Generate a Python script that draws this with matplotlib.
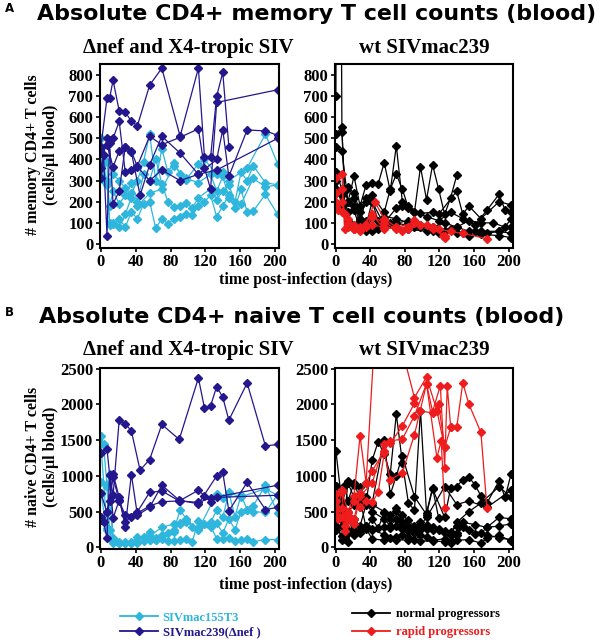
import matplotlib
matplotlib.use("Agg")
import matplotlib.pyplot as plt
from matplotlib.lines import Line2D

CYAN = "#2fb6dc"
NAVY = "#24168c"
BLACK = "#000000"
RED = "#ee1c1c"

# ---------------- data (days post-infection, cells/ul blood) ----------------
# A: memory CD4+ T cells, delta-nef / X4-tropic SIV
mem_nef_days = [
    [0, 7, 10, 14, 21, 28, 35, 42, 56, 70, 91, 112, 119, 126, 133, 140, 147],
    [0, 7, 10, 14, 21, 28, 35, 42, 56, 70, 91, 112, 119, 126, 133, 203],
    [0, 3, 7, 10, 14, 21, 28, 35, 45, 56, 70, 91, 112, 133, 140, 147, 168, 189, 203],
    [0, 7, 14, 21, 28, 35, 42, 56, 70, 91, 112, 133, 203],
]
mem_nef_vals = [
    [460, 690, 690, 775, 630, 625, 580, 560, 752, 832, 510, 832, 410, 410, 700, 812, 460],
    [360, 500, 490, 500, 580, 340, 350, 370, 510, 470, 505, 545, 360, 260, 670, 730],
    [310, 420, 40, 480, 190, 250, 460, 435, 230, 375, 510, 430, 330, 400, 540, 320, 540, 535, 515],
    [430, 470, 365, 440, 460, 440, 365, 300, 350, 300, 330, 350, 500],
]
mem_x4_days = [
    [0, 3, 7, 14, 21, 28, 35, 42, 49, 56, 63, 70, 77, 84, 91, 98, 112, 119, 133, 140, 147, 168, 189, 203],
    [0, 7, 10, 14, 21, 28, 35, 42, 49, 56, 63, 70, 77, 84, 91, 98, 105, 112, 126, 133, 140, 147, 154, 161, 168, 175, 189, 203],
    [0, 7, 10, 14, 21, 28, 35, 42, 49, 56, 63, 70, 77, 84, 91, 98, 105, 112, 119, 126, 133, 140, 147, 154, 161, 168, 175, 189, 203],
    [0, 3, 7, 10, 14, 21, 28, 35, 42, 56, 70, 84, 98, 112, 126, 133, 140, 147, 161, 175, 189, 203],
]
mem_x4_vals = [
    [500, 390, 280, 330, 300, 265, 240, 300, 390, 520, 300, 450, 340, 385, 330, 305, 380, 400, 330, 340, 300, 360, 520, 380],
    [390, 300, 180, 250, 190, 230, 290, 200, 330, 300, 400, 285, 200, 175, 180, 195, 170, 220, 260, 210, 250, 280, 200, 340, 300, 370, 290, 280],
    [310, 390, 90, 95, 120, 80, 150, 120, 190, 200, 75, 120, 95, 120, 130, 140, 135, 180, 200, 230, 130, 180, 230, 170, 260, 150, 155, 235, 140],
    [460, 300, 290, 100, 100, 80, 140, 220, 180, 240, 260, 370, 310, 290, 330, 250, 320, 220, 190, 310, 270, 280],
]

# A: memory CD4+ T cells, wt SIVmac239
mem_wt_days = [
    [0, 3, 7, 10, 14, 21, 28, 35, 42, 49, 56, 63, 70, 77, 84, 91, 98, 105, 112, 119, 126, 133, 140],
    [0, 7, 10, 14, 21, 28, 35, 42, 56, 63, 70, 77, 84, 98, 112, 119, 140, 147, 154, 168, 189, 203],
    [0, 7, 14, 21, 28, 35, 42, 56, 70, 77, 91, 105, 119, 133, 147, 161, 175, 189, 196, 203],
    [0, 7, 14, 21, 28, 35, 42, 49, 56, 70, 84, 98, 112, 126, 140, 154, 168, 182, 196, 203],
    [0, 7, 14, 21, 28, 35, 42, 49, 56, 63, 70, 84, 98, 112, 126, 140, 154, 168, 189, 203],
    [0, 7, 10, 14, 21, 28, 35, 42, 49, 56, 70, 84, 105, 119, 133, 147, 161, 175, 189, 203],
    [0, 7, 14, 21, 28, 35, 42, 56, 70, 91, 112, 126, 140, 154, 168, 189, 203],
]
mem_wt_vals = [
    [700, 4000, 530, 260, 200, 320, 180, 280, 290, 285, 385, 250, 465, 200, 180, 150, 365, 210, 375, 260, 140, 220, 325],
    [520, 555, 250, 270, 240, 150, 200, 230, 150, 260, 330, 260, 170, 145, 150, 140, 250, 140, 180, 120, 200, 185],
    [460, 440, 200, 220, 120, 110, 130, 100, 170, 180, 150, 130, 110, 150, 120, 90, 160, 235, 160, 150],
    [340, 260, 150, 180, 100, 220, 200, 110, 130, 120, 100, 90, 80, 100, 80, 110, 100, 100, 80, 120],
    [260, 240, 110, 90, 120, 90, 80, 70, 90, 100, 100, 110, 80, 70, 60, 80, 60, 60, 60, 80],
    [300, 180, 140, 200, 160, 70, 60, 60, 80, 100, 80, 70, 60, 50, 70, 50, 60, 50, 60, 50],
    [240, 230, 100, 80, 110, 90, 200, 90, 100, 80, 60, 60, 50, 40, 45, 40, 30],
]
mem_rapid_days = [
    [0, 7, 10, 14, 21, 28, 35, 45, 56, 70, 84, 98, 112, 126],
    [0, 7, 10, 14, 21, 28, 35, 42, 56, 77, 91, 105, 119, 133, 147, 175],
    [0, 3, 7, 14, 21, 28, 42, 56, 70, 84, 98, 112, 124],
    [0, 7, 14, 21, 28, 42, 56, 70, 91, 112, 126],
]
mem_rapid_vals = [
    [310, 330, 70, 80, 70, 70, 90, 200, 120, 80, 80, 90, 80, 30],
    [240, 260, 140, 120, 90, 70, 80, 130, 100, 60, 115, 90, 70, 60, 50, 25],
    [200, 160, 150, 100, 70, 60, 90, 80, 70, 70, 90, 80, 40],
    [180, 200, 90, 70, 80, 140, 70, 80, 100, 70, 40],
]

# B: naive CD4+ T cells, delta-nef / X4-tropic SIV
nai_nef_days = [
    [0, 7, 10, 14, 21, 28, 35, 45, 56, 70, 90, 112, 119, 126, 133, 140, 147, 168, 189, 203],
    [0, 7, 10, 14, 21, 28, 35, 42, 56, 70, 90, 112, 133, 140, 147, 168, 189, 203],
    [0, 3, 7, 10, 14, 21, 28, 35, 42, 56, 70, 90, 112, 119, 126, 133, 203],
    [0, 7, 14, 21, 28, 42, 56, 70, 91, 112, 126, 203],
]
nai_nef_vals = [
    [1320, 1380, 1020, 730, 1780, 1730, 1630, 1080, 1230, 1720, 1510, 2370, 1950, 1980, 2250, 2100, 1780, 2300, 1420, 1440],
    [760, 490, 650, 1030, 700, 290, 1020, 450, 560, 870, 660, 610, 1000, 1050, 510, 910, 530, 560],
    [420, 360, 130, 1020, 410, 660, 360, 430, 500, 770, 790, 650, 800, 720, 640, 700, 730],
    [380, 500, 980, 650, 450, 480, 580, 640, 650, 630, 690, 870],
]
nai_x4_days = [
    [0, 3, 7, 10, 14, 21, 28, 35, 42, 49, 56, 63, 70, 77, 84, 91, 98, 105, 112, 119, 126, 133, 140, 147, 154, 161, 168, 175, 189, 203],
    [0, 7, 10, 14, 21, 28, 35, 42, 49, 56, 63, 70, 77, 84, 91, 98, 105, 112, 126, 133, 140, 147, 154, 161, 168, 175, 189, 203],
    [0, 7, 10, 14, 21, 28, 35, 42, 56, 63, 70, 84, 91, 98, 112, 126, 133, 140, 147, 154, 161, 168, 175, 189, 203],
    [0, 7, 14, 21, 28, 35, 42, 56, 70, 84, 91, 98, 112, 133, 140, 147, 161, 189, 203],
]
nai_x4_vals = [
    [1560, 1440, 870, 1030, 120, 60, 60, 60, 70, 150, 220, 130, 180, 200, 250, 520, 400, 290, 260, 330, 350, 520, 420, 770, 430, 730, 530, 580, 870, 480],
    [920, 850, 250, 60, 60, 60, 60, 70, 90, 100, 110, 120, 90, 90, 100, 120, 80, 370, 300, 120, 120, 130, 90, 100, 120, 80, 110, 110],
    [750, 250, 650, 130, 60, 60, 60, 60, 100, 110, 160, 220, 340, 350, 270, 280, 340, 200, 400, 250, 500, 520, 500, 490, 740],
    [1450, 270, 90, 70, 80, 80, 140, 160, 280, 330, 330, 380, 250, 750, 690, 760, 710, 820, 730],
]

# B: naive CD4+ T cells, wt SIVmac239
nai_wt_days = [
    [0, 7, 14, 21, 28, 35, 42, 49, 56, 63, 70, 77, 84, 91, 98, 105, 112, 119],
    [0, 7, 10, 14, 21, 28, 35, 42, 56, 63, 70, 77, 91, 105, 112, 126, 133, 140, 147, 154, 161, 168, 175, 189, 196, 203],
    [0, 7, 10, 14, 21, 28, 35, 42, 56, 63, 70, 77, 84, 91, 98, 105, 112, 119, 126, 133, 140, 154, 168, 189, 203],
    [0, 7, 10, 14, 21, 28, 35, 42, 56, 63, 70, 77, 84, 91, 98, 105, 112, 126, 133, 140, 147, 161, 175, 189, 203],
    [0, 7, 14, 21, 28, 35, 42, 56, 63, 70, 77, 84, 91, 98, 105, 112, 119, 126, 133, 140, 147, 154, 168, 175, 189, 203],
    [0, 7, 14, 21, 28, 35, 42, 56, 63, 70, 77, 84, 91, 98, 105, 112, 126, 133, 140, 147, 161, 175, 189, 203],
    [0, 7, 14, 21, 28, 35, 42, 56, 70, 84, 98, 112, 126, 133, 140, 154, 168, 175, 189, 203],
    [0, 3, 7, 10, 14, 21, 28, 35, 42, 49, 56, 63, 70, 77, 84, 91, 98, 105, 126, 140, 154, 175, 203],
]
nai_wt_vals = [
    [1350, 620, 900, 700, 560, 620, 1220, 1480, 1300, 1030, 1866, 1187, 624, 520, 1914, 483, 835, 413],
    [860, 500, 400, 930, 880, 850, 640, 620, 1500, 741, 1000, 1280, 710, 460, 820, 420, 830, 850, 950, 980, 880, 720, 620, 930, 700, 1030],
    [700, 400, 150, 500, 600, 650, 700, 600, 500, 400, 550, 450, 380, 300, 350, 300, 260, 250, 230, 200, 350, 500, 620, 850, 700],
    [520, 300, 120, 80, 400, 300, 600, 500, 400, 300, 400, 330, 300, 260, 280, 260, 250, 220, 210, 300, 350, 320, 280, 420, 400],
    [380, 100, 200, 250, 200, 300, 260, 280, 270, 300, 260, 230, 200, 250, 320, 280, 260, 200, 180, 200, 300, 250, 200, 280, 300, 330],
    [300, 160, 250, 170, 230, 300, 250, 180, 130, 140, 170, 150, 100, 180, 150, 100, 120, 90, 180, 280, 190, 180, 130, 110],
    [240, 500, 400, 200, 250, 260, 120, 100, 110, 100, 90, 90, 80, 60, 100, 110, 60, 130, 170, 90],
    [860, 700, 450, 880, 650, 900, 680, 270, 400, 270, 480, 460, 510, 360, 280, 260, 310, 420, 850, 600, 650, 560, 800],
]
nai_rapid_days = [
    [0, 7, 14, 21, 28, 35, 49, 63, 91, 105, 117, 126],
    [0, 7, 10, 14, 21, 28, 35, 42, 56, 63, 77, 91, 105, 112, 121, 126, 129, 133, 140, 147, 154, 168, 175],
    [0, 7, 10, 14, 21, 28, 35, 42, 49, 56, 63, 77, 91, 105, 117, 122, 126],
    [0, 3, 7, 14, 21, 28, 42, 56, 63, 77, 91, 98, 112, 119, 126, 133],
]
nai_rapid_vals = [
    [750, 780, 500, 720, 1560, 900, 3800, 3400, 2097, 2383, 1914, 1398],
    [530, 430, 230, 450, 400, 760, 900, 1070, 1350, 1490, 1515, 1843, 2289, 1900, 2265, 1116, 2256, 1680, 1680, 2303, 2007, 1608, 553],
    [420, 800, 300, 420, 650, 560, 650, 630, 770, 1320, 950, 1045, 1576, 2289, 1257, 1490, 553],
    [650, 400, 550, 380, 330, 720, 900, 1440, 1455, 1700, 2017, 1910, 1880, 2010, 1398, 1680],
]

xticks = [0, 40, 80, 120, 160, 200]
mem_yticks = [0, 100, 200, 300, 400, 500, 600, 700, 800]
nai_yticks = [0, 500, 1000, 1500, 2000, 2500]

SERIF = "Liberation Serif"
SANS = "DejaVu Sans"

fig = plt.figure(figsize=(6.04, 6.40), dpi=100)
W, H = 604, 640


def add_ax(x0, y0, x1, y1):
    return fig.add_axes([x0 / W, 1 - y1 / H, (x1 - x0) / W, (y1 - y0) / H])


def draw_group(ax, days_list, vals_list, color):
    for d, v in zip(days_list, vals_list):
        ax.plot(d, v, color=color, lw=0.9, marker="D", ms=3.8, mec=color, mfc=color)


def style(ax, yticks, ylim):
    ax.set_xlim(-1.6, 204.6)
    ax.set_ylim(*ylim)
    ax.set_xticks(xticks)
    ax.set_yticks(yticks)
    ax.tick_params(direction="out", length=3, width=1.2, pad=1.5)
    for lab in ax.get_xticklabels() + ax.get_yticklabels():
        lab.set_fontfamily(SERIF)
        lab.set_fontweight("bold")
        lab.set_fontsize(12)
    for sp in ax.spines.values():
        sp.set_linewidth(1.5)


ax_a1 = add_ax(99.5, 64, 279, 248)
ax_a2 = add_ax(334.5, 64, 512.5, 248)
ax_b1 = add_ax(99.5, 368, 279, 549)
ax_b2 = add_ax(334.5, 368, 512.5, 549)

draw_group(ax_a1, mem_x4_days, mem_x4_vals, CYAN)
draw_group(ax_a1, mem_nef_days, mem_nef_vals, NAVY)
draw_group(ax_a2, mem_wt_days, mem_wt_vals, BLACK)
draw_group(ax_a2, mem_rapid_days, mem_rapid_vals, RED)
draw_group(ax_b1, nai_x4_days, nai_x4_vals, CYAN)
draw_group(ax_b1, nai_nef_days, nai_nef_vals, NAVY)
draw_group(ax_b2, nai_wt_days, nai_wt_vals, BLACK)
draw_group(ax_b2, nai_rapid_days, nai_rapid_vals, RED)

for ax in (ax_a1, ax_a2):
    style(ax, mem_yticks, (-19, 852))
for ax in (ax_b1, ax_b2):
    style(ax, nai_yticks, (-22, 2510))

# headings
fig.text(5 / W, 1 - 8 / H, "A", fontfamily=SANS, fontweight="bold", fontsize=8.5, va="center")
fig.text(5 / W, 1 - 312 / H, "B", fontfamily=SANS, fontweight="bold", fontsize=8.5, va="center")
fig.text(317 / W, 1 - 14 / H, "Absolute CD4+ memory T cell counts (blood)",
         fontfamily=SANS, fontweight="bold", fontsize=15.9, ha="center", va="center")
fig.text(302 / W, 1 - 317 / H, "Absolute CD4+ naive T cell counts (blood)",
         fontfamily=SANS, fontweight="bold", fontsize=15.9, ha="center", va="center")

for yy in (48, 350):
    fig.text(188 / W, 1 - yy / H, "\u0394nef and X4-tropic SIV", fontfamily=SERIF,
             fontweight="bold", fontsize=15, ha="center", va="center")
    fig.text(424 / W, 1 - yy / H, "wt SIVmac239", fontfamily=SERIF,
             fontweight="bold", fontsize=15, ha="center", va="center")

fig.text(306 / W, 1 - 280 / H, "time post-infection (days)", fontfamily=SERIF,
         fontweight="bold", fontsize=11.5, ha="center", va="center")
fig.text(306 / W, 1 - 585 / H, "time post-infection (days)", fontfamily=SERIF,
         fontweight="bold", fontsize=11.5, ha="center", va="center")

fig.text(42 / W, 1 - 155 / H, "# memory CD4+ T cells\n(cells/\u03bcl blood)", fontfamily=SERIF,
         fontweight="bold", fontsize=11.5, ha="center", va="center", rotation=90, linespacing=1.1)
fig.text(42 / W, 1 - 457 / H, "# naive CD4+ T cells\n(cells/\u03bcl blood)", fontfamily=SERIF,
         fontweight="bold", fontsize=11.5, ha="center", va="center", rotation=90, linespacing=1.1)

# legends
def legend_handle(color):
    return Line2D([], [], color=color, lw=1.3, marker="D", ms=3.6, mfc=color, mec=color)


leg1 = fig.legend([legend_handle(CYAN), legend_handle(NAVY)],
                  ["SIVmac155T3", "SIVmac239(\u0394nef )"],
                  loc="center left", bbox_to_anchor=(109 / W, 1 - 625 / H), frameon=False,
                  handlelength=3.0, handletextpad=0.4, labelspacing=0.2,
                  prop={"family": SERIF, "weight": "bold", "size": 9})
for txt, c in zip(leg1.get_texts(), (CYAN, NAVY)):
    txt.set_color(c)

leg2 = fig.legend([legend_handle(BLACK), legend_handle(RED)],
                  ["normal progressors", "rapid progressors"],
                  loc="center left", bbox_to_anchor=(341 / W, 1 - 623 / H), frameon=False,
                  handlelength=3.0, handletextpad=0.5, labelspacing=0.5,
                  prop={"family": SERIF, "weight": "bold", "size": 9})
for txt, c in zip(leg2.get_texts(), (BLACK, RED)):
    txt.set_color(c)

fig.savefig("out.png", dpi=100)
